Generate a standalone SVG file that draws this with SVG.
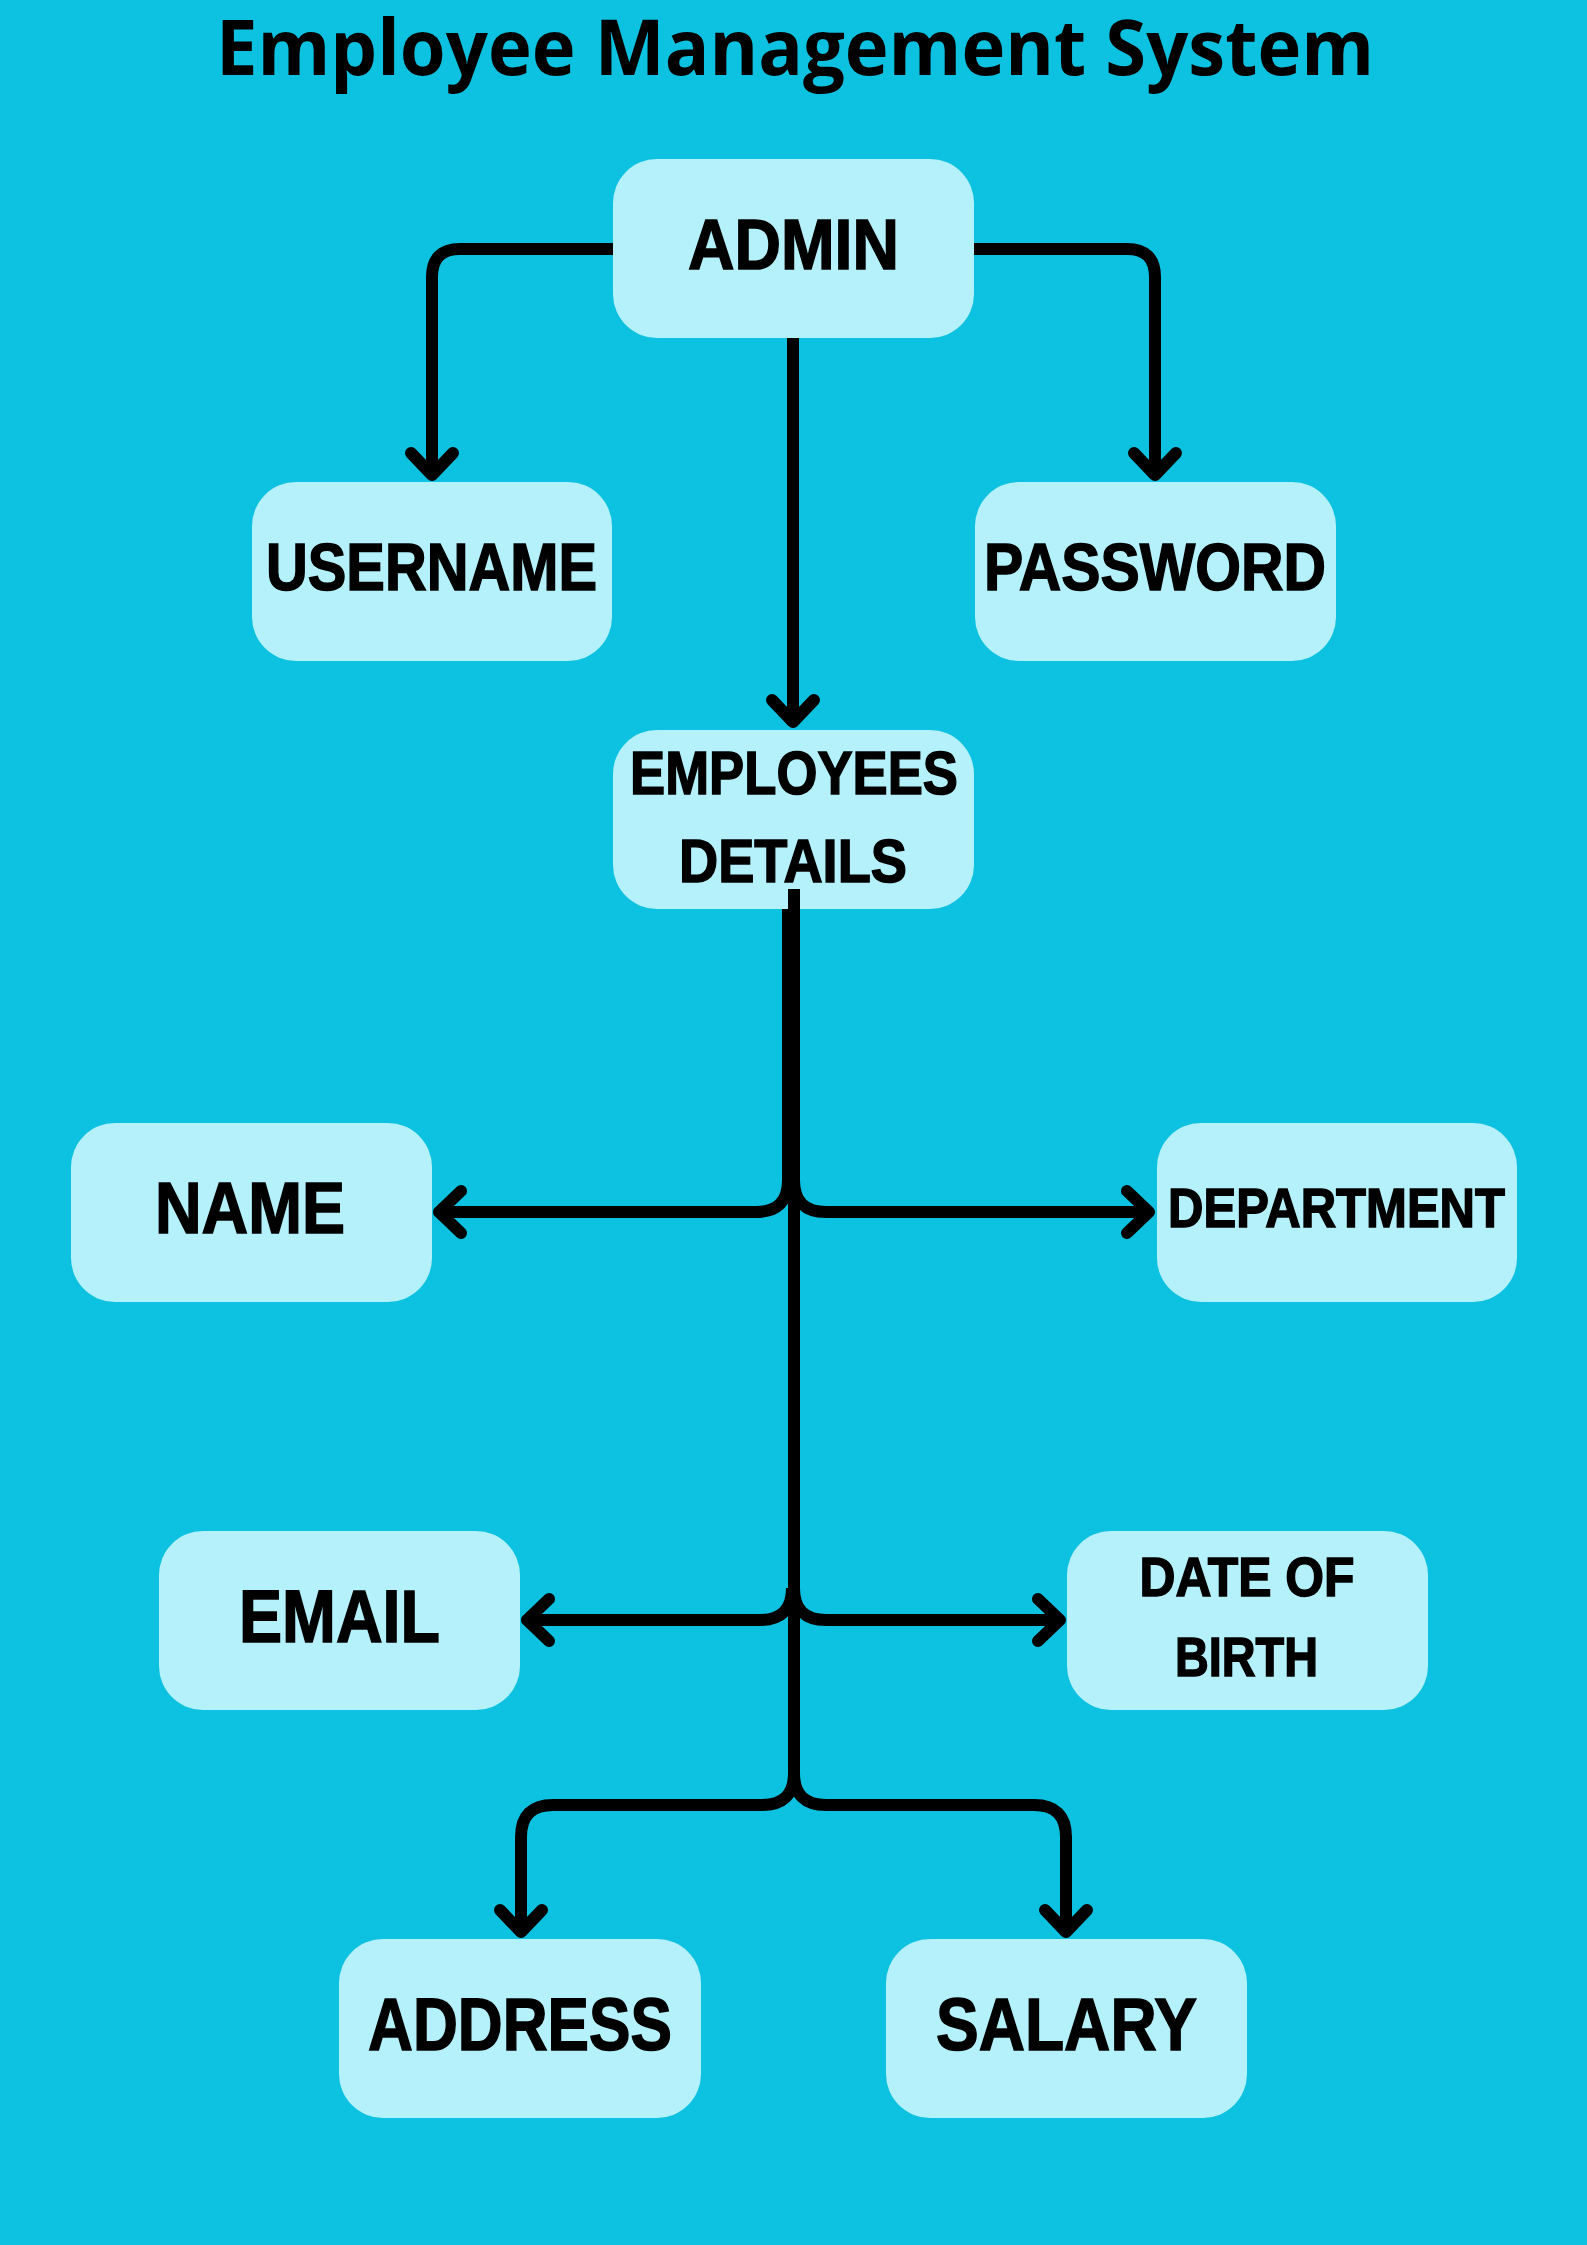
<svg xmlns="http://www.w3.org/2000/svg" width="1587" height="2245" viewBox="0 0 1587 2245">
  <style>
    .box { fill: #B4F1FB; }
    .lbl { font-family: "Liberation Sans", Arial, sans-serif; font-weight: bold; fill: #000; stroke: #000; stroke-width: 1.5; text-anchor: middle; }
    .title { font-family: "Open Sans", "Liberation Sans", sans-serif; font-weight: 700; fill: #000; text-anchor: middle; }
    .conn { fill: none; stroke: #000; stroke-width: 12; stroke-linejoin: round; }
  </style>
  <defs>
    <marker id="arrow" markerUnits="userSpaceOnUse" viewBox="-40 -40 80 80" markerWidth="80" markerHeight="80" refX="0" refY="0" orient="auto" overflow="visible">
      <path d="M-22,-21 L0,0 L-22,21" fill="none" stroke="#000" stroke-width="12" stroke-linecap="round" stroke-linejoin="round"/>
    </marker>
  </defs>
  <rect width="1587" height="2245" fill="#0DC1E0"/>

  <text class="title" x="795" y="75" font-size="77" textLength="1158" lengthAdjust="spacingAndGlyphs">Employee Management System</text>

  <g id="connectors">
    <path class="conn" d="M613,249 H460 Q432,249 432,277 V475" marker-end="url(#arrow)"/>
    <path class="conn" d="M974,249 H1127 Q1155,249 1155,277 V475" marker-end="url(#arrow)"/>
    <path class="conn" d="M793,338 V722" marker-end="url(#arrow)"/>
  </g>

  <g id="admin">
    <rect class="box" x="613" y="159" width="361" height="179" rx="44"/>
    <text class="lbl" x="793.5" y="269" font-size="71" textLength="211" lengthAdjust="spacingAndGlyphs">ADMIN</text>
  </g>
  <g id="username">
    <rect class="box" x="252" y="482" width="360" height="179" rx="44"/>
    <text class="lbl" x="431.5" y="590" font-size="67" textLength="331" lengthAdjust="spacingAndGlyphs">USERNAME</text>
  </g>
  <g id="password">
    <rect class="box" x="975" y="482" width="361" height="179" rx="44"/>
    <text class="lbl" x="1155" y="590" font-size="67" textLength="342" lengthAdjust="spacingAndGlyphs">PASSWORD</text>
  </g>
  <g id="employees-details">
    <rect class="box" x="613" y="730" width="361" height="179" rx="44"/>
    <text class="lbl" x="794" y="794" font-size="62" textLength="328" lengthAdjust="spacingAndGlyphs">EMPLOYEES</text>
    <text class="lbl" x="793" y="882" font-size="62" textLength="228" lengthAdjust="spacingAndGlyphs">DETAILS</text>
  </g>
  <g id="name">
    <rect class="box" x="71" y="1123" width="361" height="179" rx="44"/>
    <text class="lbl" x="250" y="1233" font-size="72" textLength="190" lengthAdjust="spacingAndGlyphs">NAME</text>
  </g>
  <g id="department">
    <rect class="box" x="1157" y="1123" width="360" height="179" rx="44"/>
    <text class="lbl" x="1336.5" y="1227" font-size="55" textLength="337" lengthAdjust="spacingAndGlyphs">DEPARTMENT</text>
  </g>
  <g id="email">
    <rect class="box" x="159" y="1531" width="361" height="179" rx="44"/>
    <text class="lbl" x="339.5" y="1642" font-size="74" textLength="201" lengthAdjust="spacingAndGlyphs">EMAIL</text>
  </g>
  <g id="date-of-birth">
    <rect class="box" x="1067" y="1531" width="361" height="179" rx="44"/>
    <text class="lbl" x="1247" y="1596" font-size="56" textLength="215" lengthAdjust="spacingAndGlyphs">DATE OF</text>
    <text class="lbl" x="1246.5" y="1676" font-size="56" textLength="143" lengthAdjust="spacingAndGlyphs">BIRTH</text>
  </g>
  <g id="address">
    <rect class="box" x="339" y="1939" width="362" height="179" rx="44"/>
    <text class="lbl" x="520" y="2050" font-size="74" textLength="304" lengthAdjust="spacingAndGlyphs">ADDRESS</text>
  </g>
  <g id="salary">
    <rect class="box" x="886" y="1939" width="361" height="179" rx="44"/>
    <text class="lbl" x="1066.5" y="2050" font-size="74" textLength="261" lengthAdjust="spacingAndGlyphs">SALARY</text>
  </g>

  <g id="connectors-lower">
    <path class="conn" d="M794,889 V1773 Q794,1805 826,1805 H1034 Q1066,1805 1066,1837 V1932" marker-end="url(#arrow)"/>
    <path class="conn" d="M788,909 V1180 Q788,1212 756,1212 H439" marker-end="url(#arrow)"/>
    <path class="conn" d="M794,1180 Q794,1212 826,1212 H1149" marker-end="url(#arrow)"/>
    <path class="conn" d="M792,1588 Q792,1620 760,1620 H527" marker-end="url(#arrow)"/>
    <path class="conn" d="M794,1588 Q794,1620 826,1620 H1060" marker-end="url(#arrow)"/>
    <path class="conn" d="M794,1773 Q794,1805 762,1805 H553 Q521,1805 521,1837 V1932" marker-end="url(#arrow)"/>
  </g>
</svg>
